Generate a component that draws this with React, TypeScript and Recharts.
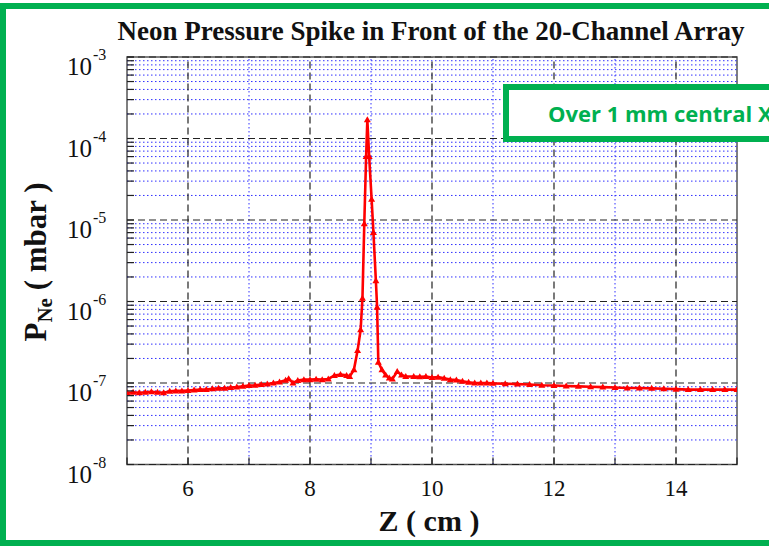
import React from "react";
import { LineChart, Line, XAxis, YAxis, ReferenceLine, ReferenceArea } from "recharts";

// Z position (cm) and neon pressure (mbar)
const zCm = [
  5.0, 5.1, 5.2, 5.3, 5.4, 5.5, 5.6, 5.7, 5.8, 5.9,
  6.0, 6.1, 6.2, 6.3, 6.4, 6.5, 6.6, 6.7, 6.8, 6.9,
  7.0, 7.1, 7.2, 7.3, 7.4, 7.5, 7.6, 7.65, 7.72, 7.8,
  7.9, 8.0, 8.1, 8.2, 8.3, 8.4, 8.5, 8.6, 8.65, 8.72,
  8.78, 8.83, 8.86, 8.89, 8.92, 8.94, 8.97, 9.01, 9.04, 9.08,
  9.1, 9.12, 9.18, 9.24, 9.3, 9.35, 9.43, 9.5, 9.57, 9.7,
  9.8, 9.9, 10.0, 10.1, 10.2, 10.3, 10.4, 10.5, 10.6, 10.7,
  10.8, 10.9, 11.0, 11.2, 11.4, 11.6, 11.8, 12.0, 12.2, 12.4,
  12.6, 12.8, 13.0, 13.2, 13.4, 13.6, 13.8, 14.0, 14.2, 14.4,
  14.6, 14.8, 15.0,
];

const pNe = [
  7.6e-8, 7.7e-8, 7.6e-8, 7.7e-8, 7.8e-8, 7.7e-8, 7.6e-8, 7.9e-8, 8.0e-8, 8.0e-8,
  8.1e-8, 8.2e-8, 8.3e-8, 8.3e-8, 8.5e-8, 8.6e-8, 8.6e-8, 8.8e-8, 8.9e-8, 9.1e-8,
  9.3e-8, 9.4e-8, 9.6e-8, 9.7e-8, 1.0e-7, 1.03e-7, 1.08e-7, 1.13e-7, 1.0e-7, 1.07e-7,
  1.1e-7, 1.1e-7, 1.11e-7, 1.1e-7, 1.12e-7, 1.24e-7, 1.27e-7, 1.24e-7, 1.2e-7, 1.45e-7,
  2.5e-7, 4.5e-7, 1.1e-6, 9e-6, 6e-5, 1.7e-4, 6e-5, 1.8e-5, 7e-6, 1.8e-6,
  8.5e-7, 1.8e-7, 1.45e-7, 1.25e-7, 1.15e-7, 1.12e-7, 1.38e-7, 1.25e-7, 1.2e-7, 1.2e-7,
  1.19e-7, 1.2e-7, 1.17e-7, 1.18e-7, 1.14e-7, 1.1e-7, 1.09e-7, 1.05e-7, 1.02e-7, 1.0e-7,
  1.0e-7, 1.0e-7, 9.9e-8, 9.8e-8, 9.7e-8, 9.6e-8, 9.4e-8, 9.3e-8, 9.2e-8, 9.1e-8,
  9.0e-8, 8.9e-8, 8.8e-8, 8.7e-8, 8.7e-8, 8.6e-8, 8.5e-8, 8.4e-8, 8.3e-8, 8.3e-8,
  8.3e-8, 8.3e-8, 8.3e-8,
];

const xTicks = [5, 6, 7, 8, 9, 10, 11, 12, 13, 14, 15];
const xMajor = [6, 8, 10, 12, 14];
const xMinor = [7, 9, 11, 13];
const decades = [-8, -7, -6, -5, -4, -3];
const minorMult = [2, 3, 4, 5, 6, 7, 8, 9];

const data = zCm.map((z, i) => ({ z, p: pNe[i] }));
const yMajor = decades.map((d) => Math.pow(10, d));
const yMinor = decades.slice(0, -1).flatMap((d) => minorMult.map((m) => m * Math.pow(10, d)));
const yTicks = [...yMajor, ...yMinor].sort((a, b) => a - b);

const GREEN = "#00b050";
const BLUE = "#3030ff";
const SERIF = "'Liberation Serif', 'Times New Roman', serif";

const YTick = (props: any) => {
  const { x, y, payload } = props;
  const lg = Math.log10(payload.value);
  const exp = Math.round(lg);
  const major = Math.abs(lg - exp) < 1e-6;
  return (
    <g>
      <line x1={x} x2={x + 7} y1={y} y2={y} stroke="#222" strokeWidth={1.2} />
      {major && (
        <>
          <text x={x - 35} y={y + 18} textAnchor="end" fontFamily={SERIF} fontSize={25} fill="#111">10</text>
          <text x={x - 34} y={y + 3} textAnchor="start" fontFamily={SERIF} fontSize={16} fill="#111">{exp}</text>
        </>
      )}
    </g>
  );
};

const XTick = (props: any) => {
  const { x, y, payload } = props;
  const v = payload.value;
  const showLabel = v % 2 === 0;
  return (
    <g>
      <line x1={x} x2={x} y1={y} y2={y - 7} stroke="#222" strokeWidth={1.2} />
      {showLabel && (
        <text x={x} y={y + 31} textAnchor="middle" fontFamily={SERIF} fontSize={23} fill="#111">{v}</text>
      )}
    </g>
  );
};

const TriDot = (props: any) => {
  const { cx, cy } = props;
  if (cx == null || cy == null) return null;
  return <path d={`M${cx},${cy - 3.5} L${cx + 3.5},${cy + 2.5} L${cx - 3.5},${cy + 2.5} Z`} fill="#ff0000" />;
};

export default function App() {
  return (
    <div style={{ position: "absolute", left: 0, top: 0, width: 769, height: 547, background: "#fff", overflow: "hidden" }}>
      <div style={{ position: "absolute", left: 0, top: 3, width: 800, height: 531, border: `6px solid ${GREEN}` }} />
      <div style={{ position: "absolute", left: 0, top: 0 }}>
        <LineChart width={769} height={547} data={data} margin={{ top: 57, right: 32, bottom: 0, left: 0 }}>
          <XAxis
            dataKey="z"
            type="number"
            domain={[5, 15]}
            ticks={xTicks}
            axisLine={false}
            tickLine={false}
            tickSize={0}
            tickMargin={0}
            height={82.5}
            tick={<XTick />}
            allowDataOverflow
          />
          <YAxis
            dataKey="p"
            type="number"
            scale="log"
            domain={[1e-8, 1e-3]}
            ticks={yTicks}
            axisLine={false}
            tickLine={false}
            tickSize={0}
            tickMargin={0}
            width={127}
            tick={<YTick />}
            interval={0}
            allowDataOverflow
          />
          {yMinor.map((v) => (
            <ReferenceLine key={`ym${v}`} y={v} stroke={BLUE} strokeDasharray="1.5 2.5" strokeWidth={1} />
          ))}
          {xMinor.map((v) => (
            <ReferenceLine key={`xm${v}`} x={v} stroke={BLUE} strokeDasharray="1.5 2.5" strokeWidth={1} />
          ))}
          {yMajor.map((v) => (
            <ReferenceLine key={`yM${v}`} y={v} stroke="#222" strokeDasharray="7 4" strokeWidth={1.2} />
          ))}
          {xMajor.map((v) => (
            <ReferenceLine key={`xM${v}`} x={v} stroke="#222" strokeDasharray="7 4" strokeWidth={1.2} />
          ))}
          <ReferenceArea x1={5} x2={15} y1={1e-8} y2={1e-3} fill="none" stroke="#555" strokeWidth={1.5} />
          <Line
            dataKey="p"
            type="linear"
            stroke="#ff0000"
            strokeWidth={2.6}
            dot={<TriDot />}
            isAnimationActive={false}
          />
        </LineChart>
      </div>
      <svg width={769} height={547} style={{ position: "absolute", left: 0, top: 0, pointerEvents: "none" }}>
        <text x={431} y={40} textAnchor="middle" fontFamily={SERIF} fontWeight="bold" fontSize={27} fill="#111">
          Neon Pressure Spike in Front of the 20-Channel Array
        </text>
        <text x={429} y={531} textAnchor="middle" fontFamily={SERIF} fontWeight="bold" fontSize={30} fill="#111">
          Z ( cm )
        </text>
        <text transform="translate(46,262) rotate(-90)" textAnchor="middle" fontFamily={SERIF} fontWeight="bold" fontSize={31} fill="#111">
          P<tspan fontSize={21} dy={6}>Ne</tspan>
          <tspan dy={-6}> ( mbar )</tspan>
        </text>
      </svg>
      <div
        style={{
          position: "absolute",
          left: 503,
          top: 84,
          width: 320,
          height: 46,
          border: `6px solid ${GREEN}`,
          background: "#fff",
          color: GREEN,
          fontFamily: "'Open Sans', sans-serif",
          fontWeight: "bold",
          fontSize: 22,
          lineHeight: "46px",
          paddingLeft: 39,
          whiteSpace: "nowrap",
          boxSizing: "content-box",
        }}
      >
        Over 1 mm central X
      </div>
    </div>
  );
}
